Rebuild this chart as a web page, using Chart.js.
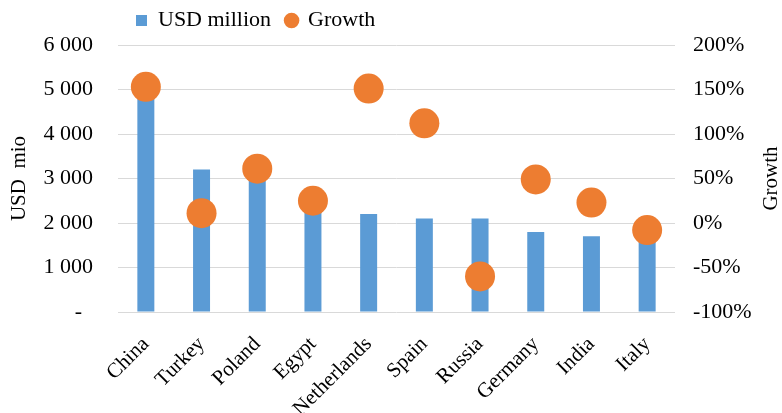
<!DOCTYPE html>
<html>
<head>
<meta charset="utf-8">
<script src="https://cdn.jsdelivr.net/npm/chart.js@4/dist/chart.umd.min.js"></script>
<style>
  html, body { margin: 0; padding: 0; background: #fff; }
  #wrap { width: 782px; height: 413px; }
</style>
</head>
<body>
<div id="wrap"><canvas id="c"></canvas></div>
<script>
const countries = ['China', 'Turkey', 'Poland', 'Egypt', 'Netherlands', 'Spain', 'Russia', 'Germany', 'India', 'Italy'];
const usdMillion = [5000, 3200, 3100, 2400, 2200, 2100, 2100, 1800, 1700, 1600];
const growthPct = [153, 11, 61, 25, 151, 112, -60, 49, 23, -8];
const usdTicks = [0, 1000, 2000, 3000, 4000, 5000, 6000];
const growthTicks = [-100, -50, 0, 50, 100, 150, 200];

const BLUE = '#5b9bd5';
const ORANGE = '#ed7d31';
const FONT = '"Liberation Serif", "Times New Roman", serif';

function fmtUsd(v) {
    if (v === 0) return '-  ';
    return String(v).replace(/\B(?=(\d{3})+(?!\d))/g, ' ');
}

// legend sits left of centre in the original, and the right title reads bottom-to-top
const tweaks = {
    id: 'tweaks',
    afterLayout(chart) {
        const lg = chart.legend;
        lg.top = -5.5;
        lg.left = 121;
    },
    afterDraw(chart) {
        const { ctx, chartArea } = chart;
        ctx.save();
        ctx.translate(chart.width - 11, (chartArea.top + chartArea.bottom) / 2);
        ctx.rotate(-Math.PI / 2);
        ctx.font = '21px ' + FONT;
        ctx.fillStyle = '#000';
        ctx.textAlign = 'center';
        ctx.textBaseline = 'middle';
        ctx.fillText('Growth', 0, 0);
        ctx.restore();
    },
};

new Chart(document.getElementById('c'), {
    data: {
        labels: countries,
        datasets: [
            {
                type: 'bar',
                label: 'USD million',
                data: usdMillion,
                backgroundColor: BLUE,
                yAxisID: 'y',
                order: 2,
                barPercentage: 0.305,
                categoryPercentage: 1,
                pointStyle: 'rect',
            },
            {
                type: 'line',
                label: 'Growth',
                data: growthPct,
                showLine: false,
                backgroundColor: ORANGE,
                borderColor: ORANGE,
                pointRadius: 15,
                pointHoverRadius: 15,
                pointBorderWidth: 0,
                yAxisID: 'y1',
                order: 1,
                pointStyle: 'circle',
            },
        ],
    },
    options: {
        responsive: true,
        maintainAspectRatio: false,
        animation: false,
        layout: { padding: { top: -2 } },
        plugins: {
            tooltip: { enabled: false },
            legend: {
                position: 'top',
                align: 'start',
                labels: {
                    usePointStyle: true,
                    boxHeight: 11,
                    boxWidth: 11,
                    padding: 15,
                    color: '#000',
                    font: { family: FONT, size: 22 },
                    sort: (a, b) => a.datasetIndex - b.datasetIndex,
                },
            },
        },
        scales: {
            x: {
                grid: { display: false },
                border: { display: false },
                ticks: {
                    color: '#000',
                    font: { family: FONT, size: 21 },
                    minRotation: 45,
                    maxRotation: 45,
                    padding: 12,
                },
                afterFit: (s) => { s.height = 101; },
            },
            y: {
                position: 'left',
                min: 0,
                max: 6000,
                afterBuildTicks: (s) => { s.ticks = usdTicks.map((v) => ({ value: v })); },
                grid: { color: '#d9d9d9', drawTicks: false },
                border: { display: false },
                ticks: {
                    color: '#000',
                    font: { family: FONT, size: 22 },
                    padding: 25,
                    callback: (v) => fmtUsd(v),
                },
                title: {
                    display: true,
                    text: 'USD  mio',
                    color: '#000',
                    font: { family: FONT, size: 21 },
                    padding: { top: 7, bottom: 0 },
                },
                afterFit: (s) => { s.width = 118; },
            },
            y1: {
                position: 'right',
                min: -100,
                max: 200,
                afterBuildTicks: (s) => { s.ticks = growthTicks.map((v) => ({ value: v })); },
                grid: { display: false, drawTicks: false },
                border: { display: false },
                ticks: {
                    color: '#000',
                    font: { family: FONT, size: 22 },
                    padding: 18,
                    callback: (v) => v + '%',
                },
                afterFit: (s) => { s.width = 107; },
            },
        },
    },
    plugins: [tweaks],
});
</script>
</body>
</html>
